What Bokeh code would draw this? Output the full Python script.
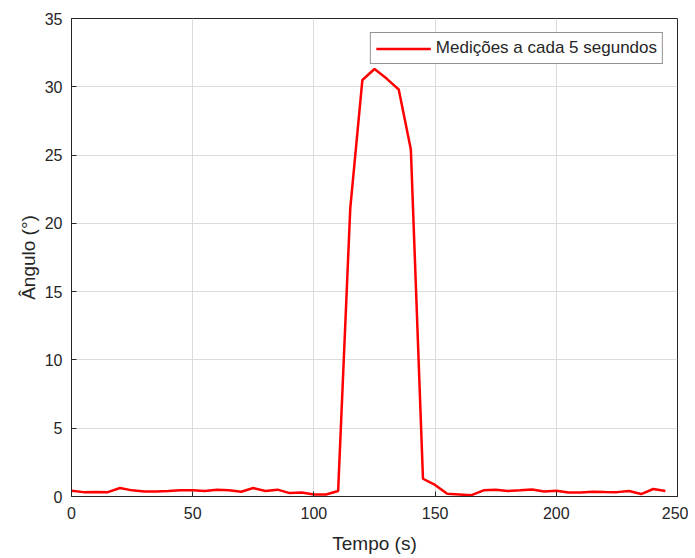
from bokeh.plotting import figure
from bokeh.embed import file_html
from bokeh.resources import INLINE
from bokeh.models import Range1d, FixedTicker, Legend, LegendItem

tempo = [0, 5, 10, 15, 20, 25, 30, 35, 40, 45, 50, 55, 60, 65, 70, 75, 80, 85, 90, 95,
         100, 105, 110, 115, 120, 125, 130, 135, 140, 145, 150, 155, 160, 165, 170, 175,
         180, 185, 190, 195, 200, 205, 210, 215, 220, 225, 230, 235, 240, 245]
angulo = [0.42, 0.32, 0.33, 0.32, 0.62, 0.45, 0.36, 0.37, 0.40, 0.46, 0.45, 0.40, 0.50, 0.46,
          0.35, 0.62, 0.40, 0.50, 0.25, 0.30, 0.15, 0.15, 0.40, 21.1, 30.5, 31.3, 30.6, 29.8,
          25.4, 1.3, 0.85, 0.20, 0.15, 0.10, 0.45, 0.50, 0.40, 0.45, 0.52, 0.36, 0.42, 0.30,
          0.30, 0.35, 0.33, 0.32, 0.40, 0.18, 0.55, 0.40]
x_ticks = [0, 50, 100, 150, 200, 250]
y_ticks = [0, 5, 10, 15, 20, 25, 30, 35]

dark = "#262626"
font = "Liberation Sans"

p = figure(width=688, height=556, output_backend="svg", toolbar_location=None,
           x_range=Range1d(0, 250), y_range=Range1d(0, 35),
           min_border_left=71, min_border_right=11, min_border_top=18, min_border_bottom=57)
p.background_fill_color = "white"
p.outline_line_color = dark
p.outline_line_width = 1

r = p.line(tempo, angulo, line_color="#ff0000", line_width=2.5)

for ax in (p.xaxis[0], p.yaxis[0]):
    ax.major_tick_in = 5
    ax.major_tick_out = 0
    ax.minor_tick_in = 0
    ax.minor_tick_out = 0
    ax.axis_line_color = dark
    ax.major_tick_line_color = dark
    ax.major_label_text_color = dark
    ax.major_label_text_font = font
    ax.major_label_text_font_size = "16px"
    ax.axis_label_text_color = dark
    ax.axis_label_text_font = font
    ax.axis_label_text_font_size = "19px"
    ax.axis_label_text_font_style = "normal"

p.xaxis.ticker = FixedTicker(ticks=x_ticks)
p.yaxis.ticker = FixedTicker(ticks=y_ticks)
p.xaxis.axis_label = "Tempo (s)"
p.yaxis.axis_label = "Ângulo (°)"
p.xaxis.major_label_standoff = 10
p.yaxis.major_label_standoff = 9
p.xaxis.axis_label_standoff = 11
p.yaxis.axis_label_standoff = 3

p.xgrid.ticker = FixedTicker(ticks=x_ticks)
p.ygrid.ticker = FixedTicker(ticks=y_ticks)
p.grid.grid_line_color = "#dcdcdc"
p.grid.grid_line_width = 1

legend = Legend(items=[LegendItem(label="Medições a cada 5 segundos", renderers=[r])],
                location="top_right")
legend.label_text_font = font
legend.label_text_font_size = "17px"
legend.label_text_color = dark
legend.border_line_color = dark
legend.border_line_width = 1
legend.background_fill_color = "white"
legend.background_fill_alpha = 1
legend.glyph_width = 55
legend.glyph_height = 17
legend.padding = 5
legend.spacing = 0
legend.label_standoff = 5
legend.margin = 14
legend.label_height = 17
p.add_layout(legend)

open("out.html", "w").write(file_html(p, INLINE))
